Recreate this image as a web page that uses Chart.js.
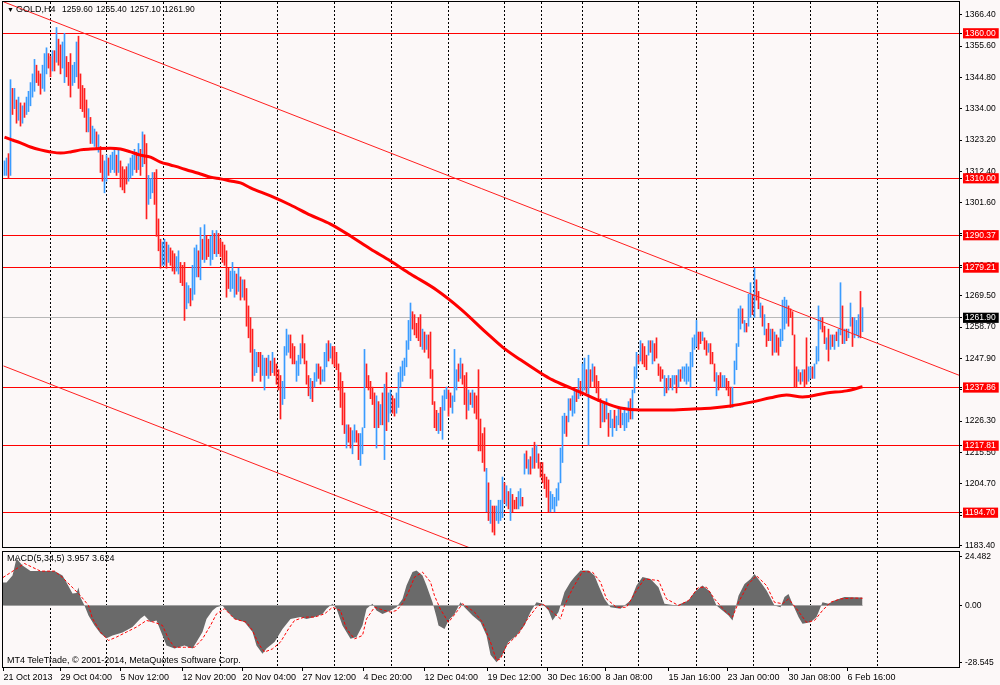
<!DOCTYPE html>
<html><head><meta charset="utf-8">
<script src="https://cdn.jsdelivr.net/npm/chart.js@4.4.1/dist/chart.umd.min.js"></script>
<style>
html,body{margin:0;padding:0;background:#fcf8f8;width:1000px;height:685px;overflow:hidden;font-family:"Liberation Sans",Arial,sans-serif;}
canvas{position:absolute;left:0;}
#c1{top:0;}
#c2{top:548px;}
.t{position:absolute;font-size:9px;color:#000;white-space:pre;line-height:11px;}
.n{font-size:8.5px;}
</style></head><body>
<canvas id="c1" width="1000" height="548"></canvas>
<canvas id="c2" width="1000" height="137"></canvas>
<div class="t" style="left:7px;top:4px;font-size:7px">▼</div>
<div class="t" style="left:16px;top:4px">GOLD,H4</div>
<div class="t n" style="left:62px;top:4px">1259.60</div>
<div class="t n" style="left:96px;top:4px">1265.40</div>
<div class="t n" style="left:130px;top:4px">1257.10</div>
<div class="t n" style="left:164px;top:4px">1261.90</div>
<div class="t" style="left:7px;top:553px">MACD(5,34,5) 3.957 3.624</div>
<div class="t" style="left:7px;top:655px">MT4 TeleTrade, © 2001-2014, MetaQuotes Software Corp.</div>
<script>
// ---------- DATA ----------
const lows = [
1311,1311,1310,1311,1332,1334,1329,1330,1328,1329,
1331,1332,1333,1335,1338,1340,1343,1342,1339,1341,
1340,1346,1348,1345,1347,1347,1350,1349,1346,1348,
1343,1345,1342,1338,1342,1343,1345,1341,1334,1333,
1331,1326,1326,1322,1322,1321,1320,1319,1312,1309,
1305,1309,1311,1312,1313,1312,1311,1312,1307,1306,
1305,1308,1309,1310,1311,1313,1312,1313,1311,1314,
1315,1296,1301,1303,1305,1301,1290,1285,1279,1280,
1280,1279,1281,1280,1278,1277,1278,1277,1274,1273,
1261,1265,1267,1266,1268,1270,1276,1276,1275,1282,
1281,1282,1283,1280,1282,1284,1283,1284,1283,1281,
1280,1269,1272,1271,1272,1269,1270,1271,1268,1269,
1268,1259,1255,1250,1240,1242,1243,1245,1240,1242,
1237,1242,1241,1242,1243,1242,1239,1237,1227,1232,
1234,1249,1250,1248,1246,1246,1240,1242,1246,1248,
1246,1239,1235,1234,1233,1238,1240,1241,1239,1240,
1240,1245,1247,1248,1246,1245,1244,1237,1231,1225,
1222,1217,1219,1217,1215,1219,1219,1213,1211,1215,
1224,1238,1237,1234,1232,1224,1217,1224,1225,1225,
1213,1223,1226,1229,1229,1228,1229,1231,1238,1240,
1242,1245,1251,1254,1258,1256,1255,1254,1252,1251,
1250,1251,1248,1241,1232,1224,1223,1222,1223,1220,
1230,1234,1228,1231,1229,1233,1237,1240,1241,1239,
1232,1227,1230,1232,1231,1229,1227,1216,1216,1212,
1209,1195,1192,1191,1188,1187,1192,1191,1192,1193,
1198,1197,1196,1192,1195,1196,1196,1196,1197,1197,
1208,1210,1208,1208,1210,1210,1212,1210,1207,1205,
1203,1200,1195,1195,1196,1195,1197,1199,1205,1212,
1222,1221,1226,1230,1228,1229,1233,1234,1235,1236,
1237,1236,1218,1238,1240,1238,1236,1233,1224,1226,
1226,1227,1221,1224,1221,1224,1223,1225,1224,1225,
1223,1224,1226,1227,1227,1236,1241,1246,1247,1246,
1245,1244,1249,1250,1246,1247,1248,1242,1240,1241,
1235,1236,1237,1238,1237,1239,1236,1238,1240,1241,
1240,1239,1240,1238,1245,1251,1252,1251,1253,1254,
1251,1249,1250,1246,1246,1240,1235,1237,1238,1238,
1238,1237,1235,1231,1231,1239,1244,1252,1258,1260,
1257,1257,1259,1262,1263,1262,1268,1265,1262,1259,
1256,1252,1254,1254,1249,1250,1250,1249,1252,1254,
1258,1260,1259,1262,1256,1238,1238,1240,1239,1240,
1238,1239,1240,1241,1241,1241,1246,1247,1258,1257,
1253,1251,1247,1251,1252,1251,1254,1252,1256,1253,
1253,1254,1255,1259,1252,1255,1256,1255,1255,1257.1];
const highs = [
1316,1317,1318.5,1344,1341,1341,1337,1338,1336,1335,
1336,1338,1340,1343,1346,1351,1349,1347,1346,1349,
1353,1355,1353,1352,1354,1354,1362,1358,1356,1357,
1360,1352,1350,1353,1349,1350,1357,1359,1346,1342,
1341,1337,1334,1331,1328,1327,1326,1325,1321,1318,
1316,1318,1317,1318,1319,1320,1318,1320,1316,1314,
1313,1314,1315,1317,1318,1320,1319,1322,1320,1326,
1325,1322,1311,1310,1312,1312,1313,1296,1289,1288,
1289,1288,1287,1286,1285,1284,1283,1285,1281,1280,
1281,1274,1273,1272,1280,1286,1287,1285,1293,1289,
1294,1290,1289,1290,1292,1291,1292,1291,1289,1288,
1287,1285,1279,1278,1281,1278,1277,1279,1276,1275,
1275,1272,1266,1262,1258,1251,1250,1250,1250,1249,
1248,1248,1249,1247,1250,1248,1246,1244,1242,1240,
1252,1258,1256,1256,1253,1252,1247,1249,1253,1256,
1253,1247,1242,1241,1240,1243,1246,1246,1245,1244,
1250,1253,1254,1253,1252,1252,1250,1246,1243,1240,
1236,1225,1225,1224,1223,1225,1223,1222,1222,1224,
1251,1246,1242,1240,1238,1236,1235,1233,1232,1236,
1239,1243,1236,1237,1235,1234,1236,1243,1245,1247,
1248,1254,1261,1267,1264,1263,1260,1262,1263,1258,
1257,1256,1256,1257,1244,1233,1230,1229,1231,1235,
1237,1238,1237,1236,1235,1251,1244,1246,1248,1246,
1242,1243,1237,1236,1237,1236,1235,1244,1227,1222,
1224,1210,1205,1199,1197,1197,1197,1199,1199,1207,
1205,1204,1202,1203,1201,1199,1200,1202,1203,1200,
1215,1216,1213,1214,1217,1219,1218,1215,1212,1212,
1208,1207,1206,1202,1201,1200,1203,1205,1217,1228,
1229,1228,1234,1234,1235,1237,1237,1241,1240,1246,
1248,1244,1249,1244,1246,1245,1242,1240,1234,1233,
1233,1234,1229,1230,1227,1230,1228,1231,1231,1229,
1231,1229,1233,1234,1237,1245,1250,1249,1254,1253,
1252,1249,1254,1254,1254,1253,1255,1246,1245,1244,
1242,1241,1242,1241,1242,1242,1242,1244,1244,1245,
1245,1246,1245,1250,1255,1256,1261,1257,1257,1257,
1255,1254,1253,1253,1250,1246,1243,1242,1243,1242,
1242,1241,1240,1238,1238,1247,1253,1265,1266,1265,
1261,1260,1270,1274,1270,1279,1275,1271,1267,1266,
1263,1258,1260,1258,1258,1257,1256,1255,1258,1268,
1269,1268,1266,1265,1264,1256,1245,1244,1243,1244,
1244,1255,1245,1245,1245,1246,1252,1266,1262,1262,
1259,1255,1258,1256,1256,1256,1257,1258,1274,1266,
1258,1258,1258,1267,1262,1262,1261,1263,1271,1265.4];
const ups = [
1,1,0,1,0,1,0,1,0,1,
0,1,1,1,1,1,0,0,0,1,
1,1,0,0,1,0,1,0,0,1,
1,0,0,0,1,1,1,0,0,0,
0,0,1,0,1,1,0,1,0,0,
1,1,0,1,1,1,0,1,0,0,
0,0,1,1,1,1,0,1,0,1,
0,0,1,1,1,0,0,0,0,1,
1,0,1,0,0,0,1,1,0,0,
0,1,1,0,1,1,1,0,1,0,
1,0,0,1,1,0,1,0,0,0,
0,0,0,1,1,1,0,1,0,1,
0,0,0,0,0,1,1,0,0,1,
1,0,1,0,1,0,0,0,0,1,
1,1,1,0,0,0,1,1,1,0,
0,0,0,1,0,1,1,0,0,1,
1,1,0,1,0,0,0,0,0,0,
0,1,0,0,1,1,0,0,1,1,
1,0,0,0,0,0,1,0,1,0,
1,0,1,1,0,0,1,1,1,1,
1,1,1,1,0,0,0,0,0,1,
0,1,0,0,0,0,0,1,0,1,
1,1,0,0,1,1,1,0,1,0,
0,0,1,0,1,0,0,0,0,0,
0,1,0,1,0,0,1,1,1,1,
0,1,0,1,0,0,0,1,1,0,
1,0,1,0,1,0,1,0,0,0,
0,0,0,1,1,1,1,1,1,1,
1,0,1,0,1,1,0,1,0,1,
1,0,1,0,1,0,0,0,0,1,
0,1,0,1,1,0,1,1,0,1,
1,1,1,0,1,1,1,0,1,0,
0,0,1,0,1,0,0,0,0,0,
1,0,1,0,1,1,0,1,0,1,
1,1,1,1,1,1,1,0,0,1,
0,0,1,0,0,0,1,0,0,1,
1,0,0,0,1,1,1,1,1,0,
1,0,1,1,0,1,0,0,1,0,
1,0,0,1,0,1,0,0,1,1,
1,1,0,0,0,0,0,1,0,1,
0,0,1,1,0,1,1,1,1,0,
0,1,0,1,0,1,0,1,1,0,
1,0,1,1,0,1,1,1,0,1];

// moving average [barIndex, price]
const maLine = [[0,1324.2],[4,1323.2],[8,1322.2],[13,1320.8],[18,1319.8],[23,1319.1],[28,1318.7],[33,1319.1],[38,1319.8],[43,1320.1],[48,1320.3],[53,1320.4],[58,1320.1],[63,1319.1],[68,1318.0],[73,1317.3],[78,1315.6],[83,1314.6],[88,1313.6],[93,1312.5],[98,1311.5],[103,1310.4],[108,1309.8],[113,1309.1],[118,1308.4],[123,1306.7],[133,1303.9],[143,1300.8],[153,1297.3],[163,1294.2],[173,1290.1],[183,1285.6],[193,1281.5],[203,1277.0],[216,1271.5],[228,1265.0],[241,1256.7],[249,1251.8],[258,1247.4],[268,1242.9],[274,1240.5],[283,1237.7],[291,1235.3],[299,1232.9],[308,1230.8],[318,1230.1],[333,1230.1],[346,1230.5],[354,1230.8],[363,1231.5],[374,1232.9],[383,1234.3],[391,1235.3],[399,1234.6],[411,1236.0],[421,1236.7],[429,1238.1]];

// trend lines [barIndex, price]
const upperTrend = [[-0.5,1370.86],[477.25,1242.1]];
const lowerTrend = [[-0.5,1245.3],[240,1180.6]];

// horizontal levels and last price
const levels = [1360.00,1310.00,1290.37,1279.21,1237.86,1217.81,1194.70];
const lastPrice = 1261.90;
const priceTicks = [1366.40,1355.60,1344.80,1334.00,1323.20,1312.40,1301.60,1290.80,1280.00,1269.50,1258.70,1247.90,1237.10,1226.30,1215.50,1204.70,1193.90,1183.40];

// MACD histogram and signal [barIndex, value]
const macdHist = [[-0.75,11.5],[1,11.5],[4,15],[6,23.5],[9,20],[13,17.2],[19,17.2],[25,17.2],[29,15],[31,11.5],[34,6],[36,6.2],[37,9],[38,4],[40,0],[42,-5],[45,-10],[48,-14],[51,-16.4],[54,-15],[59,-13.5],[64,-10.7],[68,-6.5],[70,-5],[73,-8.3],[76,-7.5],[79,-15],[81,-20],[85,-21.5],[90,-20],[94,-21.5],[96,-18.3],[99,-13.3],[101,-6.7],[104,-2.5],[106,-0.9],[109,0],[111,-2.5],[115,-6.7],[120,-8.3],[124,-13.3],[126,-20],[129,-24.2],[131,-21.5],[135,-18.3],[139,-11.7],[143,-6.7],[148,-5.8],[151,-6.7],[155,-5.8],[159,-4.2],[161,-1.6],[164,0.9],[166,-1.6],[169,-10],[173,-16.7],[176,-15.8],[179,-10],[181,-1.6],[184,0.9],[186,-2.5],[189,-4.2],[193,-2.5],[196,-0.9],[199,3.2],[201,10],[204,16.7],[206,17.5],[209,15],[211,10],[214,1.6],[216,-5.8],[217,-10],[220,-11.7],[222,-7.5],[225,-4.2],[228,1.6],[230,-0.9],[234,-5],[238,-8.4],[241,-15],[243,-24.7],[246,-28.4],[249,-24.7],[252,-18.3],[256,-15],[260,-10],[263,-3.3],[266,1.6],[269,0.9],[272,-2.5],[274,-7.5],[277,-3.3],[280,6.7],[283,11.7],[285,14.2],[288,17.5],[292,17.5],[295,15],[297,10],[300,3.3],[303,-0.9],[308,-1.6],[313,2.5],[316,10],[319,14.2],[323,13.3],[327,9.1],[330,0.9],[336,0],[342,2.5],[345,6.7],[349,10],[353,6.7],[356,0],[359,-2.5],[362,-5],[364,-7.5],[367,4.9],[370,10.8],[373,13.3],[375,15.8],[378,11.7],[381,7.5],[385,0],[388,-0.9],[390,4.2],[392,5.8],[394,0.9],[397,-5.8],[399,-9.1],[403,-8.4],[406,-5.8],[409,1.6],[412,0.9],[415,2.5],[420,4.2],[429,3.957]];
const macdSignal = [[-0.75,14],[10,21],[18,17.2],[25,17.2],[29,14],[33,10],[38,4.9],[42,0],[44,-6.5],[48,-13.3],[52,-17.5],[56,-15.8],[61,-13.3],[66,-10.8],[71,-7.5],[75,-8.4],[79,-10],[82,-16.7],[85,-20.9],[90,-20.9],[95,-20.9],[99,-16.7],[103,-10],[106,-4.2],[110,-1.6],[115,-6.7],[121,-8.4],[124,-12.5],[127,-19.1],[130,-23.3],[134,-21.7],[138,-18.3],[142,-11.7],[145,-7.5],[150,-5.8],[155,-5.8],[160,-4.2],[164,-0.9],[168,-2.5],[171,-11.7],[175,-16.7],[179,-15],[181,-6.7],[185,-0.9],[190,-2.5],[193,-3.3],[196,-2.5],[199,0.9],[202,6.7],[205,14.2],[209,16.7],[213,11.7],[215,4.9],[218,-2],[222,-8.4],[226,-3.3],[229,0.9],[235,-3.3],[239,-8.4],[243,-18.3],[246,-27.5],[248,-26.7],[251,-20],[257,-14.2],[261,-7.5],[266,-0.9],[269,0.9],[274,-3.3],[278,-6.7],[280,0],[284,8.4],[289,17],[294,16.7],[298,11.7],[301,3.3],[306,-0.9],[311,-0.9],[316,7.5],[320,13.3],[327,12.5],[331,3.3],[337,0],[342,2.5],[347,9.1],[351,9.1],[355,3.3],[360,-2.5],[364,-5.8],[367,1.6],[372,10.8],[376,14.9],[381,10],[385,1.6],[389,0.9],[392,3.3],[396,-1.6],[401,-8.4],[405,-7.5],[409,-2.5],[413,1.6],[418,3.3],[424,3.7],[429,3.624]];
const macdTicks = [24.482, 0, -28.545];
const macdTickLabels = ["24.482","0.00","-28.545"];

// time axis labels and weekly grid (bar index positions)
const xLabels = ["21 Oct 2013","29 Oct 04:00","5 Nov 12:00","12 Nov 20:00","20 Nov 04:00","27 Nov 12:00","4 Dec 20:00","12 Dec 04:00","19 Dec 12:00","30 Dec 16:00","8 Jan 08:00","15 Jan 16:00","23 Jan 00:00","30 Jan 08:00","6 Feb 16:00"];
const xLabelIdx = [-0.5,28,58,89,119,149,179.5,210,241.5,271.5,300.5,332,361.5,392,421.5];
const weekIdx = [23,51,79.5,108,136.5,165,193.5,222,250,268.5,289,317,346,374.5,403,436.5];

// ---------- CHARTS ----------
const X_MIN = -0.75, X_MAX = 477.25;
const RED = '#ff1f1f', BLUE = '#3a9cff';
Chart.defaults.font.family = "'Liberation Sans', Arial, sans-serif";
Chart.defaults.font.size = 9;
Chart.defaults.color = '#000';

const framePlugin = {
  id: 'frame',
  afterDraw(chart) {
    const {ctx, chartArea: a} = chart;
    ctx.save(); ctx.strokeStyle = '#000'; ctx.lineWidth = 1;
    ctx.strokeRect(a.left - 0.5, a.top - 0.5, a.right - a.left + 1, a.bottom - a.top + 1);
    ctx.restore();
  }
};
const pts = arr => arr.map(p => ({x: p[0], y: p[1]}));
const isLevel = v => levels.some(l => Math.abs(l - v) < 1e-6);
const isLast = v => Math.abs(v - lastPrice) < 1e-6;
const isBox = v => isLevel(v) || isLast(v);

const lineDs = (data, color, width, extra) => Object.assign({type:'line', data, borderColor: color, borderWidth: width, pointRadius: 0, fill: false, order: 1}, extra || {});

const ds1 = [];
ds1.push(lineDs(pts(maLine), '#ff0000', 3, {cubicInterpolationMode:'monotone', order: 0}));
ds1.push(lineDs(pts(upperTrend), RED, 1));
ds1.push(lineDs(pts(lowerTrend), RED, 1));
ds1.push({
  type:'bar', order: 5,
  data: lows.map((l, i) => ({x: i, y: [l, highs[i]]})),
  backgroundColor: c => ups[c.dataIndex] ? BLUE : RED,
  borderWidth: 0, barThickness: 1, grouped: false
});

const allYTicks = priceTicks.concat([lastPrice], levels);

new Chart(document.getElementById('c1'), {
  type: 'bar',
  data: { datasets: ds1 },
  plugins: [framePlugin],
  options: {
    responsive: false, animation: false, devicePixelRatio: 1, events: [],
    layout: { padding: {left: 3, top: 2, right: 0, bottom: 1} },
    plugins: { legend: {display: false}, tooltip: {enabled: false} },
    scales: {
      x: { type: 'linear', min: X_MIN, max: X_MAX, offset: false, bounds: 'data',
        grid: { color: '#000', lineWidth: 1, drawTicks: false, offset: false },
        border: { display: false, dash: [2, 2] },
        ticks: { display: false },
        afterBuildTicks: s => { s.ticks = weekIdx.map(v => ({value: v})); },
        afterFit: s => { s.height = 0; s.paddingLeft = 0; s.paddingRight = 0; } },
      y: { type: 'linear', position: 'right', min: 1182.87, max: 1370.79, bounds: 'data',
        grid: { drawOnChartArea: true, drawTicks: true, tickLength: 3, lineWidth: 1, tickColor: '#000',
          color: c => !c.tick ? 'rgba(0,0,0,0)' : isLast(c.tick.value) ? '#b8b8b8' : isLevel(c.tick.value) ? '#ff0000' : 'rgba(0,0,0,0)' },
        border: { display: true, color: '#000' },
        ticks: { autoSkip: false, padding: 3, font: {size: 8.5},
          callback: v => Number(v).toFixed(2),
          color: c => (c.tick && isBox(c.tick.value)) ? '#fff' : '#000',
          showLabelBackdrop: c => !!(c.tick && isBox(c.tick.value)),
          backdropColor: c => (c.tick && isLast(c.tick.value)) ? '#000' : '#ff0000',
          backdropPadding: {left: 2, right: 3, top: 0, bottom: 0} },
        afterBuildTicks: s => { s.ticks = allYTicks.map(v => ({value: v})); },
        afterFit: s => { s.width = 41; s.paddingTop = 0; s.paddingBottom = 0; } }
    }
  }
});

new Chart(document.getElementById('c2'), {
  type: 'line',
  data: { datasets: [
    { data: pts(macdSignal), borderColor: '#ff0000', borderWidth: 1, borderDash: [3, 2], pointRadius: 0, fill: false, order: 0 },
    { data: [{x:0,y:0},{x:429,y:0}], borderColor: '#a0a0a0', borderWidth: 1, pointRadius: 0, fill: false, order: 1 },
    { data: pts(macdHist), borderWidth: 0, borderColor: 'rgba(0,0,0,0)', backgroundColor: '#6a6a6a', pointRadius: 0, fill: 'origin', order: 2 }
  ]},
  plugins: [framePlugin],
  options: {
    responsive: false, animation: false, devicePixelRatio: 1, events: [],
    layout: { padding: {left: 3, top: 4, right: 0, bottom: 0} },
    plugins: { legend: {display: false}, tooltip: {enabled: false} },
    scales: {
      x: { type: 'linear', min: X_MIN, max: X_MAX, offset: false, bounds: 'data',
        grid: { drawOnChartArea: false, drawTicks: true, tickLength: 4, color: '#000' },
        border: { display: false },
        ticks: { autoSkip: false, maxRotation: 0, minRotation: 0, align: 'start', padding: 1,
          callback: (v, i) => xLabels[i] },
        afterBuildTicks: s => { s.ticks = xLabelIdx.map(v => ({value: v})); },
        afterFit: s => { s.height = 18; s.paddingLeft = 0; s.paddingRight = 0; } },
      xw: { type: 'linear', position: 'bottom', min: X_MIN, max: X_MAX, offset: false, bounds: 'data',
        grid: { color: '#000', lineWidth: 1, drawTicks: false },
        border: { display: false, dash: [2, 2] },
        ticks: { display: false },
        afterBuildTicks: s => { s.ticks = weekIdx.map(v => ({value: v})); },
        afterFit: s => { s.height = 0; s.paddingLeft = 0; s.paddingRight = 0; } },
      y: { type: 'linear', position: 'right', min: -30.77, max: 26.76, bounds: 'data',
        grid: { drawOnChartArea: false, drawTicks: true, tickLength: 3, color: '#000' },
        border: { display: true, color: '#000' },
        ticks: { autoSkip: false, padding: 3, font: {size: 8.5}, callback: (v, i) => macdTickLabels[i] },
        afterBuildTicks: s => { s.ticks = macdTicks.map(v => ({value: v})); },
        afterFit: s => { s.width = 41; s.paddingTop = 0; s.paddingBottom = 0; } }
    }
  }
});
</script>
</body></html>
